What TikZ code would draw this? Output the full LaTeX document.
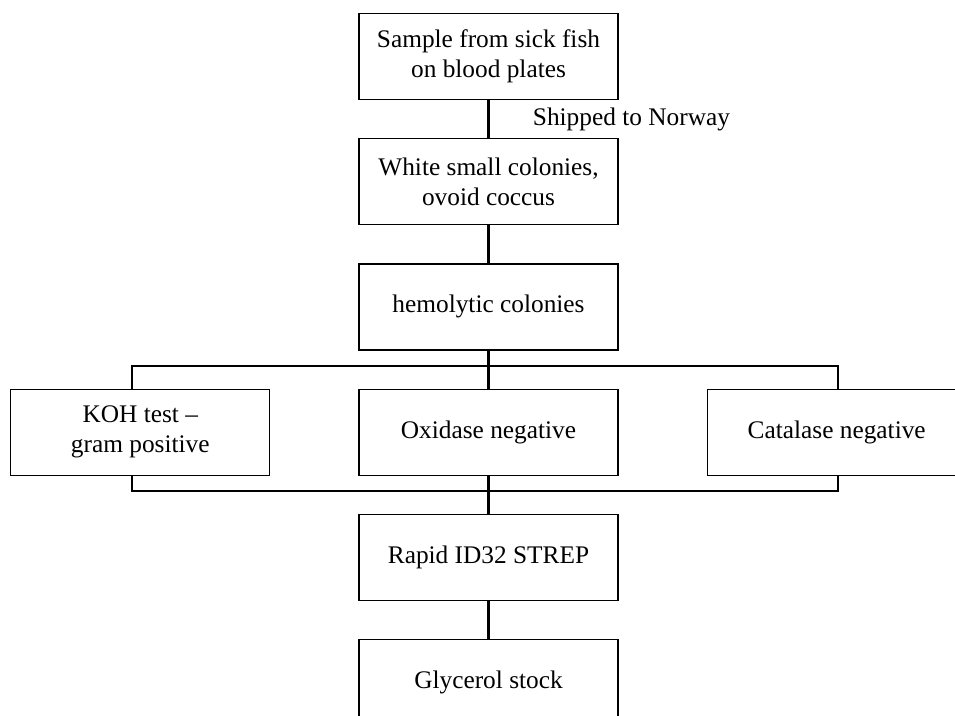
\documentclass[tikz,border=0pt]{standalone}
\usepackage{fontspec}
\setmainfont{Liberation Serif}
\usepackage{tikz}
\usetikzlibrary{positioning}

\tikzset{
  stepbox/.style={draw,line width=0.9pt,minimum width=194.25pt,minimum height=64.5pt,
    inner sep=0pt,align=center,font=\fontsize{19}{22.5}\selectfont},
  link/.style={line width=2pt}
}

\begin{document}
\begin{tikzpicture}[x=0.75pt,y=-0.75pt,node distance=28.5pt and 66pt]
\useasboundingbox (0,0) rectangle (955,715);
\clip (0,0) rectangle (955,715);

\node[stepbox] (Sample) at (488.5,56.5) {Sample from sick fish\\on blood plates};
\node[stepbox] (White) [below = of Sample] {White small colonies,\\ovoid coccus};
\node[stepbox] (Hemolytic) [below = of White] {hemolytic colonies};
\node[stepbox] (Oxidase) [below = of Hemolytic] {Oxidase negative};
\node[stepbox] (KOH) [left = of Oxidase] {KOH test --\\gram positive};
\node[stepbox] (Catalase) [right = of Oxidase] {Catalase negative};
\node[stepbox] (Rapid) [below = of Oxidase] {Rapid ID32 STREP};
\node[stepbox] (Glycerol) [below = of Rapid] {Glycerol stock};

\coordinate (TopL) at (132,366);
\coordinate (TopR) at (838,366);
\coordinate (BotL) at (132,491);
\coordinate (BotR) at (838,491);

\draw[link] (Sample) -- node[anchor=west,xshift=29pt,font=\fontsize{19}{22.5}\selectfont] {Shipped to Norway} (White);
\draw[link] (White) -- (Hemolytic);
\draw[link] (Hemolytic) -- (Oxidase);
\draw[link] (KOH.north -| TopL) -- (TopL) -- (TopR) -- (Catalase.north -| TopR);
\draw[link] (KOH.south -| BotL) -- (BotL) -- (BotR) -- (Catalase.south -| BotR);
\draw[link] (Oxidase) -- (Rapid);
\draw[link] (Rapid) -- (Glycerol);
\end{tikzpicture}
\end{document}
